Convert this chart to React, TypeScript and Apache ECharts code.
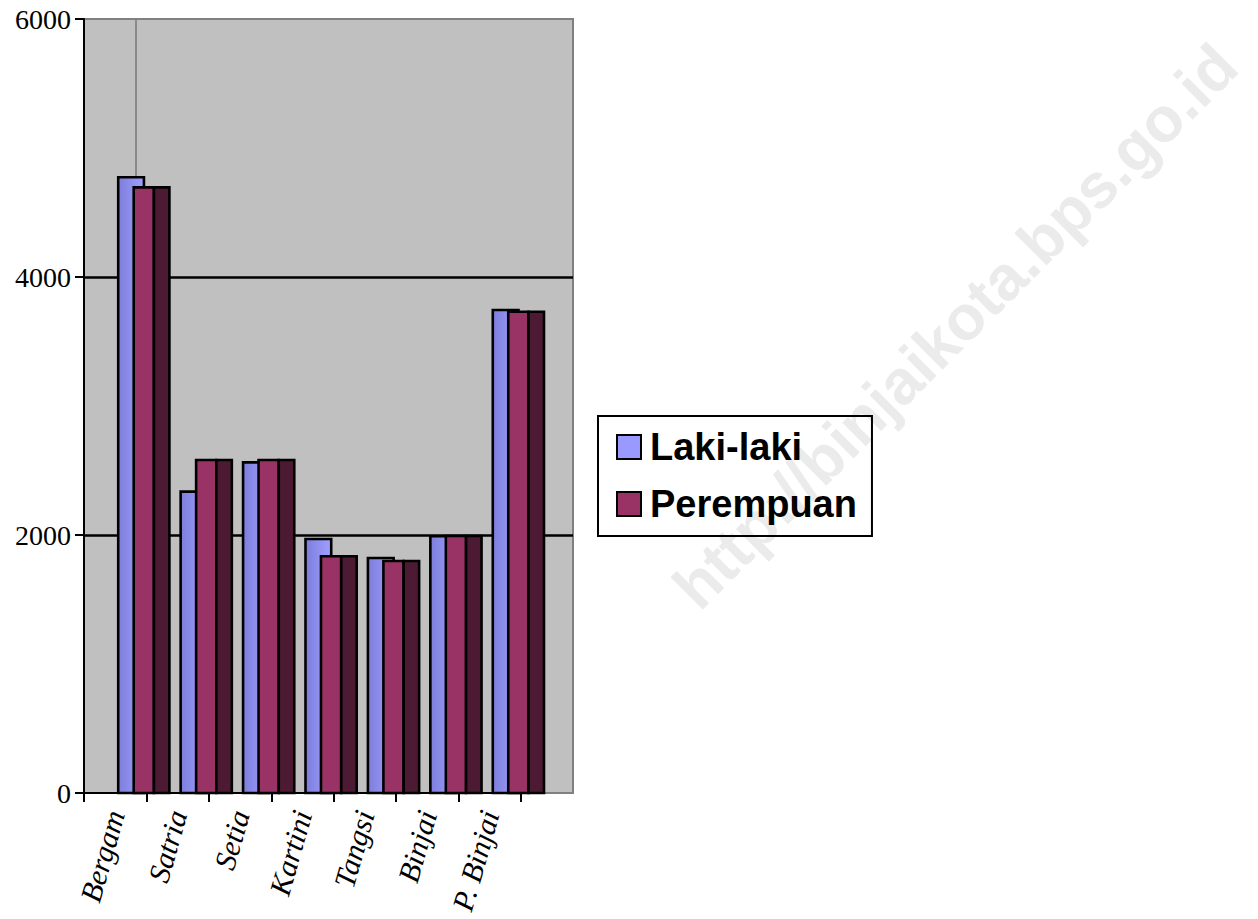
import React, { useEffect, useRef } from "react";
import * as echarts from "echarts";

const categories = ["Bergam", "Satria", "Setia", "Kartini", "Tangsi", "Binjai", "P. Binjai"];
const lakiLaki = [4773, 2336, 2563, 1969, 1822, 1990, 3744];
const perempuan = [4695, 2581, 2581, 1835, 1798, 1992, 3731];
const yMin = 0;
const yMax = 6000;
const yStep = 2000;
const seriesNames = ["Laki-laki", "Perempuan"];
const watermark = "http://binjaikota.bps.go.id";

export default function App() {
  const ref = useRef<HTMLDivElement>(null);
  useEffect(() => {
    if (!ref.current) return;
    const chart = echarts.init(ref.current, null, { renderer: "svg" });

    const blueFill = {
      type: "linear", x: 0, y: 0, x2: 1, y2: 0,
      colorStops: [
        { offset: 0, color: "#7d7ddb" },
        { offset: 1, color: "#a0a0ff" },
      ],
    };

    const lakiRender = (params: any, api: any) => {
      const top = api.coord([api.value(0), api.value(1)]);
      const base = api.coord([api.value(0), 0]);
      const bw = api.size([1, 0])[0];
      const x0 = top[0] + bw * 0.048;
      const x1 = top[0] + bw * 0.46;
      return {
        type: "rect",
        shape: { x: x0, y: top[1], width: x1 - x0, height: base[1] - top[1] },
        style: { fill: blueFill, stroke: "#000", lineWidth: 2.6 },
      };
    };

    const perRender = (params: any, api: any) => {
      const top = api.coord([api.value(0), api.value(1)]);
      const base = api.coord([api.value(0), 0]);
      const bw = api.size([1, 0])[0];
      const x0 = top[0] + bw * 0.296;
      const x1 = top[0] + bw * 0.62;
      const x2 = top[0] + bw * 0.868;
      const h = base[1] - top[1];
      return {
        type: "group",
        children: [
          {
            type: "rect",
            shape: { x: x0, y: top[1], width: x1 - x0, height: h },
            style: { fill: "#993366", stroke: "#000", lineWidth: 2.6 },
          },
          {
            type: "rect",
            shape: { x: x1, y: top[1], width: x2 - x1, height: h },
            style: { fill: "#4d1a33", stroke: "#000", lineWidth: 2.6 },
          },
        ],
      };
    };

    const option: any = {
      animation: false,
      backgroundColor: "#ffffff",
      grid: [
        {
          left: 84, top: 19, width: 437, height: 774, show: false, z: 2,
          containLabel: false, outerBoundsMode: "none",
        },
        {
          left: 84, top: 19, width: 489, height: 774, show: true,
          backgroundColor: "#c0c0c0", borderColor: "#808080", borderWidth: 2, z: 0,
          containLabel: false, outerBoundsMode: "none",
        },
      ],
      xAxis: [
        {
          type: "category",
          gridIndex: 0,
          data: categories,
          boundaryGap: true,
          axisLine: { show: true, lineStyle: { color: "#000", width: 2 } },
          axisTick: { show: true, length: 9, lineStyle: { color: "#000", width: 2 }, alignWithLabel: false },
          axisLabel: {
            interval: 0,
            rotate: 74,
            margin: 18,
            color: "#000",
            fontFamily: "Liberation Serif, Times New Roman, serif",
            fontStyle: "italic",
            fontSize: 30,
          },
          splitLine: { show: false },
          z: 5,
        },
        {
          type: "value",
          gridIndex: 1,
          min: 0,
          max: 1,
          show: false,
        },
      ],
      yAxis: [
        {
          type: "value",
          gridIndex: 0,
          min: yMin,
          max: yMax,
          interval: yStep,
          show: false,
          splitLine: { show: false },
        },
        {
          type: "value",
          gridIndex: 1,
          min: yMin,
          max: yMax,
          interval: yStep,
          axisLine: { show: true, lineStyle: { color: "#000", width: 2 } },
          axisTick: { show: true, length: 9, lineStyle: { color: "#000", width: 2 } },
          axisLabel: {
            margin: 13,
            color: "#000",
            fontFamily: "Liberation Serif, Times New Roman, serif",
            fontSize: 28,
            formatter: (v: number) => String(v),
          },
          splitLine: {
            show: true,
            showMinLine: false,
            showMaxLine: false,
            lineStyle: { color: "#000", width: 2.5 },
          },
          z: 1,
        },
      ],
      legend: {
        show: true,
        orient: "vertical",
        left: 598,
        top: 416,
        data: seriesNames,
        icon: "rect",
        itemWidth: 24,
        itemHeight: 24,
        itemGap: 13,
        borderColor: "#000",
        borderWidth: 2,
        padding: [9, 15, 10, 18],
        itemStyle: { borderColor: "#000", borderWidth: 2 },
        textStyle: {
          color: "#000",
          fontFamily: "Liberation Sans, Arial, sans-serif",
          fontWeight: "bold",
          fontSize: 38,
          lineHeight: 44,
          padding: [0, 0, 0, 4],
        },
      },
      graphic: [
        {
          type: "text",
          x: 955,
          y: 326,
          rotation: Math.PI / 4,
          z: 0,
          silent: true,
          style: {
            text: watermark,
            fill: "#ebebeb",
            font: "bold 63px 'Liberation Sans', Arial, sans-serif",
            align: "center",
            verticalAlign: "middle",
          },
        },
        {
          type: "line",
          z: 1,
          silent: true,
          shape: { x1: 136, y1: 20, x2: 136, y2: 792 },
          style: { stroke: "#8a8a8a", lineWidth: 2 },
        },
      ],
      series: [
        {
          type: "custom",
          name: seriesNames[0],
          xAxisIndex: 0,
          yAxisIndex: 0,
          renderItem: lakiRender,
          itemStyle: { color: "#9999ff" },
          encode: { x: 0, y: 1 },
          data: lakiLaki.map((v, i) => [i, v]),
          z: 3,
        },
        {
          type: "custom",
          name: seriesNames[1],
          xAxisIndex: 0,
          yAxisIndex: 0,
          renderItem: perRender,
          itemStyle: { color: "#993366" },
          encode: { x: 0, y: 1 },
          data: perempuan.map((v, i) => [i, v]),
          z: 4,
        },
      ],
    };
    chart.setOption(option);
    return () => chart.dispose();
  }, []);

  return (
    <div
      ref={ref}
      style={{ position: "fixed", left: 0, top: 0, width: 1258, height: 919 }}
    />
  );
}
